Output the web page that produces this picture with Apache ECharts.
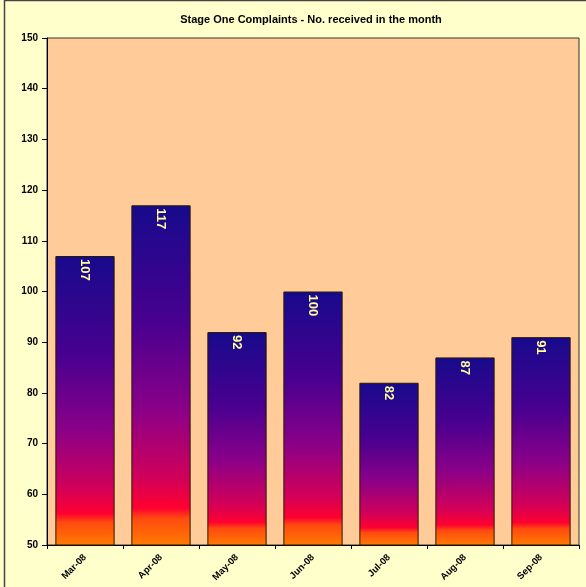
<!DOCTYPE html>
<html><head><meta charset="utf-8">
<script src="https://cdn.jsdelivr.net/npm/echarts@6/dist/echarts.min.js"></script>
<style>html,body{margin:0;padding:0;background:#ffffcc;}#c{width:586px;height:587px;}</style>
</head><body><div id="c"></div>
<script>
const categories = ['Mar-08','Apr-08','May-08','Jun-08','Jul-08','Aug-08','Sep-08'];
const complaints = [107,117,92,100,82,87,91];
const yTicks = {min:50, max:150, interval:10};
const titleText = 'Stage One Complaints - No. received in the month';

const chart = echarts.init(document.getElementById('c'), null, {renderer:'canvas'});
const grad = new echarts.graphic.LinearGradient(0,0,0,1,[
  {offset:0, color:'#170a8c'},
  {offset:0.35, color:'#4a0090'},
  {offset:0.6, color:'#8a0088'},
  {offset:0.8, color:'#d0005a'},
  {offset:0.89, color:'#ff0030'},
  {offset:0.92, color:'#ff4a10'},
  {offset:1, color:'#ff7c00'}
]);
chart.setOption({
  backgroundColor:'#ffffcc',
  animation:false,
  title:{text:titleText, left:306, top:9, textAlign:'center',
    textStyle:{fontFamily:'Liberation Sans, Arial', fontWeight:'bold', fontSize:11, color:'#000'}},
  graphic:[{type:'rect', shape:{x:4.5,y:0.5,width:700,height:700}, style:{fill:'none', stroke:'#444', lineWidth:1.5}, silent:true}],
  grid:{left:47, right:7, top:38, bottom:42, show:true, backgroundColor:'#ffcc99', borderColor:'#333', borderWidth:1},
  xAxis:{type:'category', data:categories, boundaryGap:true,
    axisLine:{lineStyle:{color:'#000', width:1}},
    axisTick:{show:true, length:4, lineStyle:{color:'#000'}},
    axisLabel:{rotate:45, interval:0, fontFamily:'Liberation Sans, Arial', fontWeight:'bold', fontSize:9.5, color:'#000', margin:11}},
  yAxis:{type:'value', min:yTicks.min, max:yTicks.max, interval:yTicks.interval,
    splitLine:{show:false},
    axisLine:{show:true, lineStyle:{color:'#000', width:1}},
    axisTick:{show:true, length:5, lineStyle:{color:'#000'}},
    axisLabel:{fontFamily:'Liberation Sans, Arial', fontWeight:'bold', fontSize:10, color:'#000', margin:9}},
  series:[{type:'bar', data:complaints, barCategoryGap:'22%',
    itemStyle:{color:grad, borderColor:'#2a1a00', borderWidth:1},
    label:{show:true, position:'insideTop', rotate:-90, align:'left', verticalAlign:'middle', distance:3,
      fontFamily:'Liberation Sans, Arial', fontWeight:'bold', fontSize:13, color:'#ffff99'}}]
});
</script></body></html>
